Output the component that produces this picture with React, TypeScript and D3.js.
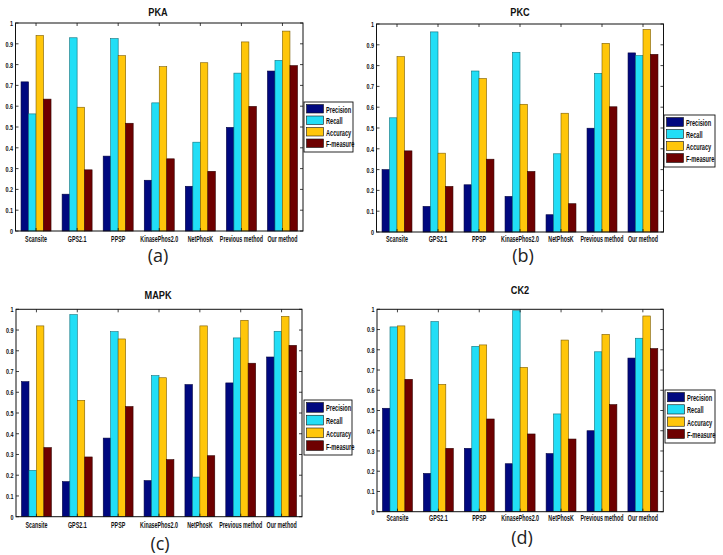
import React from "react";
import * as d3 from "d3";

const categories = ["Scansite", "GPS2.1", "PPSP", "KinasePhos2.0", "NetPhosK", "Previous method", "Our method"];
const seriesNames = ["Precision", "Recall", "Accuracy", "F-measure"];
const yTickValues = [0, 0.1, 0.2, 0.3, 0.4, 0.5, 0.6, 0.7, 0.8, 0.9, 1];
const yTickLabels = ["0", "0.1", "0.2", "0.3", "0.4", "0.5", "0.6", "0.7", "0.8", "0.9", "1"];

// PKA
const pkaPrecision = [0.717, 0.177, 0.36, 0.244, 0.215, 0.498, 0.769];
const pkaRecall = [0.563, 0.929, 0.925, 0.616, 0.427, 0.759, 0.82];
const pkaAccuracy = [0.94, 0.595, 0.843, 0.79, 0.809, 0.909, 0.961];
const pkaFmeasure = [0.634, 0.294, 0.518, 0.347, 0.287, 0.599, 0.795];

// PKC
const pkcPrecision = [0.3, 0.123, 0.227, 0.171, 0.083, 0.499, 0.861];
const pkcRecall = [0.549, 0.962, 0.774, 0.864, 0.376, 0.763, 0.848];
const pkcAccuracy = [0.843, 0.379, 0.738, 0.614, 0.571, 0.907, 0.974];
const pkcFmeasure = [0.39, 0.219, 0.35, 0.291, 0.136, 0.602, 0.854];

// MAPK
const mapkPrecision = [0.651, 0.169, 0.379, 0.174, 0.637, 0.645, 0.77];
const mapkRecall = [0.223, 0.974, 0.892, 0.68, 0.191, 0.862, 0.894];
const mapkAccuracy = [0.92, 0.561, 0.857, 0.67, 0.92, 0.947, 0.966];
const mapkFmeasure = [0.333, 0.288, 0.531, 0.275, 0.294, 0.74, 0.826];

// CK2
const ck2Precision = [0.511, 0.189, 0.313, 0.237, 0.287, 0.4, 0.759];
const ck2Recall = [0.913, 0.939, 0.817, 0.993, 0.483, 0.79, 0.857];
const ck2Accuracy = [0.918, 0.629, 0.824, 0.713, 0.848, 0.876, 0.967];
const ck2Fmeasure = [0.654, 0.313, 0.458, 0.384, 0.359, 0.529, 0.806];

const colors = ["#00087f", "#22def6", "#ffc60a", "#6e0000"];
const strokes = ["#000040", "#0b6f7a", "#7a5a00", "#300000"];

type Frame = {
  title: string;
  caption: string;
  series: number[][];
  left: number; right: number; top: number; bottom: number;
  titleX: number; titleY: number;
  xLabelY: number;
  capX: number; capY: number;
  lx: number; ly: number; lw: number; lh: number;
};

const panels: Frame[] = [
  { title: "PKA", caption: "(a)", series: [pkaPrecision, pkaRecall, pkaAccuracy, pkaFmeasure],
    left: 15.5, right: 303, top: 23, bottom: 231, titleX: 158, titleY: 12, xLabelY: 239, capX: 158, capY: 255,
    lx: 304, ly: 102, lw: 49, lh: 50 },
  { title: "PKC", caption: "(b)", series: [pkcPrecision, pkcRecall, pkcAccuracy, pkcFmeasure],
    left: 376.5, right: 663.5, top: 24, bottom: 232, titleX: 520, titleY: 12, xLabelY: 239, capX: 523, capY: 255,
    lx: 664, ly: 115, lw: 51, lh: 52 },
  { title: "MAPK", caption: "(c)", series: [mapkPrecision, mapkRecall, mapkAccuracy, mapkFmeasure],
    left: 16, right: 302, top: 309.3, bottom: 516.7, titleX: 158, titleY: 295, xLabelY: 525, capX: 160, capY: 543,
    lx: 304, ly: 400, lw: 48, lh: 55 },
  { title: "CK2", caption: "(d)", series: [ck2Precision, ck2Recall, ck2Accuracy, ck2Fmeasure],
    left: 377, right: 663.3, top: 309.3, bottom: 511.7, titleX: 520, titleY: 290, xLabelY: 518, capX: 522, capY: 537,
    lx: 665, ly: 390, lw: 50, lh: 53 },
];

const condensed = "'Liberation Sans', Arial, sans-serif";

function Panel({ p }: { p: Frame }) {
  const x = d3.scaleLinear().domain([0.5, categories.length + 0.5]).range([p.left, p.right]);
  const y = d3.scaleLinear().domain([0, 1]).range([p.bottom, p.top]);
  const inner = d3.scaleBand<string>().domain(seriesNames).range([-0.365, 0.365]).padding(0);
  const bw = x(inner.bandwidth()) - x(0);
  const rowH = (p.lh - 4) / seriesNames.length;
  return (
    <g>
      <text x={0} y={0} transform={`translate(${p.titleX},${p.titleY}) scale(0.8,1)`} textAnchor="middle"
        dominantBaseline="central" fontFamily={condensed} fontWeight="bold" fontSize={11.5} fill="#111">{p.title}</text>
      <rect x={p.left} y={p.top} width={p.right - p.left} height={p.bottom - p.top} fill="#fff" />
      {p.series.map((vals, si) =>
        vals.map((v, ci) => (
          <rect key={`${si}-${ci}`} x={x(ci + 1 + (inner(seriesNames[si]) as number))} y={y(v)} width={bw}
            height={y(0) - y(v)} fill={colors[si]} stroke={strokes[si]} strokeWidth={0.6} />
        ))
      )}
      <rect x={p.left} y={p.top} width={p.right - p.left} height={p.bottom - p.top} fill="none" stroke="#111" strokeWidth={1} />
      {yTickValues.map((t, i) => (
        <g key={t}>
          <line x1={p.left} x2={p.left + 3} y1={y(t)} y2={y(t)} stroke="#111" strokeWidth={0.8} />
          <line x1={p.right} x2={p.right - 3} y1={y(t)} y2={y(t)} stroke="#111" strokeWidth={0.8} />
          <text x={0} y={0} transform={`translate(${p.left - 2.5},${y(t)}) scale(0.68,1)`} textAnchor="end"
            dominantBaseline="central" fontFamily={condensed} fontWeight="bold" fontSize={8} fill="#111">{yTickLabels[i]}</text>
        </g>
      ))}
      {categories.map((c, ci) => (
        <g key={c}>
          <line x1={x(ci + 1)} x2={x(ci + 1)} y1={p.bottom} y2={p.bottom - 3} stroke="#111" strokeWidth={0.8} />
          <line x1={x(ci + 1)} x2={x(ci + 1)} y1={p.top} y2={p.top + 3} stroke="#111" strokeWidth={0.8} />
          <text x={0} y={0} transform={`translate(${x(ci + 1)},${p.xLabelY}) scale(0.56,1)`} textAnchor="middle"
            dominantBaseline="central" fontFamily={condensed} fontWeight="bold" fontSize={9.5} fill="#111">{c}</text>
        </g>
      ))}
      <text x={p.capX} y={p.capY} textAnchor="middle" dominantBaseline="central" fontFamily="'Open Sans', 'Liberation Sans', sans-serif"
        fontSize={18} fill="#222">{p.caption}</text>
      <rect x={p.lx} y={p.ly} width={p.lw} height={p.lh} fill="#fff" stroke="#111" strokeWidth={0.9} />
      {seriesNames.map((s, si) => (
        <g key={s}>
          <rect x={p.lx + 2.5} y={p.ly + 2.5 + si * rowH} width={17} height={rowH - 3} fill={colors[si]} stroke="#111" strokeWidth={0.6} />
          <text x={0} y={0} transform={`translate(${p.lx + 22},${p.ly + 2 + si * rowH + rowH / 2}) scale(0.66,1)`}
            dominantBaseline="central" fontFamily={condensed} fontWeight="bold" fontSize={8.5} fill="#111">{s}</text>
        </g>
      ))}
    </g>
  );
}

export default function App() {
  return (
    <svg width={723} height={555} style={{ position: "absolute", left: 0, top: 0, background: "#fff" }}>
      <rect x={0} y={0} width={723} height={555} fill="#fff" />
      {panels.map((p) => (
        <Panel key={p.title} p={p} />
      ))}
    </svg>
  );
}
